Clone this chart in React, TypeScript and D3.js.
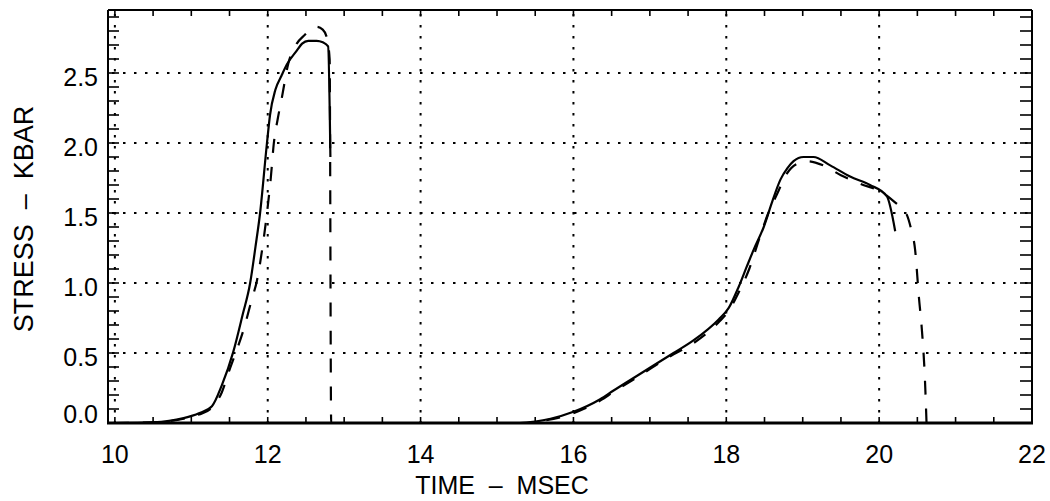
import React from "react";
import * as d3 from "d3";

// Stress histories (kbar vs msec): two pulses, two traces each.
const solidFirstX = [10.0, 10.5, 10.9, 11.1, 11.27, 11.4, 11.55, 11.67, 11.77, 11.84, 11.9, 11.99, 12.03, 12.1, 12.18, 12.25, 12.38, 12.45, 12.53, 12.64, 12.72, 12.79, 12.82];
const solidFirstY = [0.0, 0.005, 0.035, 0.07, 0.12, 0.27, 0.51, 0.77, 1.0, 1.26, 1.5, 2.0, 2.2, 2.38, 2.48, 2.56, 2.66, 2.71, 2.73, 2.73, 2.72, 2.69, 1.9];

const solidSecondX = [12.82, 15.3, 15.5, 15.7, 16.0, 16.35, 16.52, 16.87, 17.31, 17.57, 17.9, 18.03, 18.16, 18.27, 18.36, 18.49, 18.6, 18.71, 18.8, 18.88, 19.01, 19.14, 19.36, 19.62, 19.88, 20.1, 20.21];
const solidSecondY = [0.0, 0.0, 0.01, 0.03, 0.08, 0.17, 0.23, 0.35, 0.5, 0.59, 0.74, 0.82, 0.97, 1.12, 1.24, 1.4, 1.58, 1.74, 1.82, 1.87, 1.9, 1.9, 1.84, 1.76, 1.7, 1.62, 1.37];

const dashedX = [10.0, 10.5, 10.9, 11.1, 11.27, 11.4, 11.5, 11.58, 11.68, 11.79, 11.86, 11.93, 11.99, 12.04, 12.08, 12.13, 12.18, 12.27, 12.38, 12.48, 12.56, 12.64, 12.72, 12.77, 12.81, 12.83,
  15.4, 15.6, 16.0, 16.35, 16.52, 16.87, 17.31, 17.57, 17.9, 18.03, 18.16, 18.3, 18.44, 18.55, 18.66, 18.79, 18.92, 19.06, 19.27, 19.5, 19.75, 20.06, 20.2, 20.3, 20.36, 20.42, 20.47, 20.52, 20.56, 20.6, 20.62];
const dashedY = [0.0, 0.005, 0.03, 0.06, 0.11, 0.22, 0.38, 0.5, 0.66, 0.88, 1.02, 1.25, 1.5, 1.75, 2.0, 2.17, 2.31, 2.57, 2.71, 2.77, 2.81, 2.83, 2.81, 2.76, 2.6, 0.0,
  0.0, 0.015, 0.07, 0.16, 0.22, 0.34, 0.49, 0.57, 0.72, 0.8, 0.93, 1.1, 1.33, 1.5, 1.63, 1.78, 1.85, 1.87, 1.84, 1.77, 1.71, 1.64, 1.58, 1.53, 1.49, 1.38, 1.24, 0.9, 0.66, 0.3, 0.0];

const xTickLabels = [10, 12, 14, 16, 18, 20, 22];
const yTickLabels = [0.0, 0.5, 1.0, 1.5, 2.0, 2.5];
const xGrid = [10, 12, 14, 16, 18, 20];
const yGrid = [0.5, 1.0, 1.5, 2.0, 2.5];
const xMinorTicks = d3.range(10, 22.001, 0.5);
const yMinorTicks = d3.range(0, 2.95, 0.1);

const W = 1050;
const H = 501;
const left = 108;
const right = 1032;
const top = 10;
const bottom = 423;

const FONT = "'Liberation Sans', Arial, Helvetica, sans-serif";

function zip(xs: number[], ys: number[]): [number, number][] {
  return xs.map((x, i) => [x, ys[i]]);
}

export default function App() {
  const x = d3.scaleLinear().domain([9.91, 22]).range([left, right]);
  const y = d3.scaleLinear().domain([0, 2.95]).range([bottom, top]);

  const line = d3
    .line<[number, number]>()
    .x((d) => x(d[0]))
    .y((d) => y(d[1]))
    .curve(d3.curveMonotoneX);

  const solid1 = line(zip(solidFirstX, solidFirstY)) || "";
  const solid2 = line(zip(solidSecondX, solidSecondY)) || "";
  const dashed = line(zip(dashedX, dashedY)) || "";

  return (
    <svg
      width={W}
      height={H}
      viewBox={`0 0 ${W} ${H}`}
      style={{ position: "absolute", left: 0, top: 0, background: "#fff", display: "block" }}
    >
      <rect x={0} y={0} width={W} height={H} fill="#fff" />

      {/* dotted grid */}
      <g stroke="#000" strokeWidth={2} strokeDasharray="2.5,8.5" fill="none">
        {xGrid.map((v) => (
          <line key={`gx${v}`} x1={x(v)} x2={x(v)} y1={top + 4} y2={bottom} />
        ))}
        {yGrid.map((v) => (
          <line key={`gy${v}`} x1={left + 4} x2={right} y1={y(v)} y2={y(v)} />
        ))}
      </g>

      {/* minor ticks */}
      <g stroke="#000" strokeWidth={1.6}>
        {xMinorTicks.map((v) => (
          <g key={`tx${v}`}>
            <line x1={x(v)} x2={x(v)} y1={bottom} y2={bottom - 6} />
            <line x1={x(v)} x2={x(v)} y1={top} y2={top + 6} />
          </g>
        ))}
        {yMinorTicks.map((v) => (
          <g key={`ty${v.toFixed(1)}`}>
            <line x1={left} x2={left + 11} y1={y(v)} y2={y(v)} />
            <line x1={right} x2={right - 12} y1={y(v)} y2={y(v)} />
          </g>
        ))}
      </g>

      {/* traces */}
      <g fill="none" stroke="#000" strokeWidth={2.2} strokeLinejoin="round">
        <path d={solid1} />
        <path d={solid2} />
        <path d={dashed} strokeDasharray="14,14" />
      </g>

      {/* frame */}
      <g stroke="#000" fill="none">
        <line x1={left} x2={right} y1={top} y2={top} strokeWidth={2} />
        <line x1={left} x2={left} y1={top} y2={bottom} strokeWidth={2} />
        <line x1={right} x2={right} y1={top} y2={bottom} strokeWidth={2} />
        <line x1={left - 1} x2={right + 1} y1={bottom} y2={bottom} strokeWidth={3} />
      </g>

      {/* tick labels */}
      <g fontFamily={FONT} fontSize={25} fill="#000">
        {xTickLabels.map((v) => (
          <text key={`lx${v}`} x={x(v)} y={463} textAnchor="middle">
            {v}
          </text>
        ))}
        {yTickLabels.map((v) => (
          <text key={`ly${v}`} x={98} y={Math.min(y(v) + 12.5, bottom)} textAnchor="end">
            {v.toFixed(1)}
          </text>
        ))}
      </g>

      {/* axis titles */}
      <text
        x={502}
        y={494}
        textAnchor="middle"
        fontFamily={FONT}
        fontSize={25}
        style={{ whiteSpace: "pre" }}
      >
        {"TIME  \u2013  MSEC"}
      </text>
      <text
        transform={`translate(33,219) rotate(-90)`}
        textAnchor="middle"
        fontFamily={FONT}
        fontSize={27}
        style={{ whiteSpace: "pre" }}
      >
        {"STRESS  \u2013  KBAR"}
      </text>
    </svg>
  );
}
